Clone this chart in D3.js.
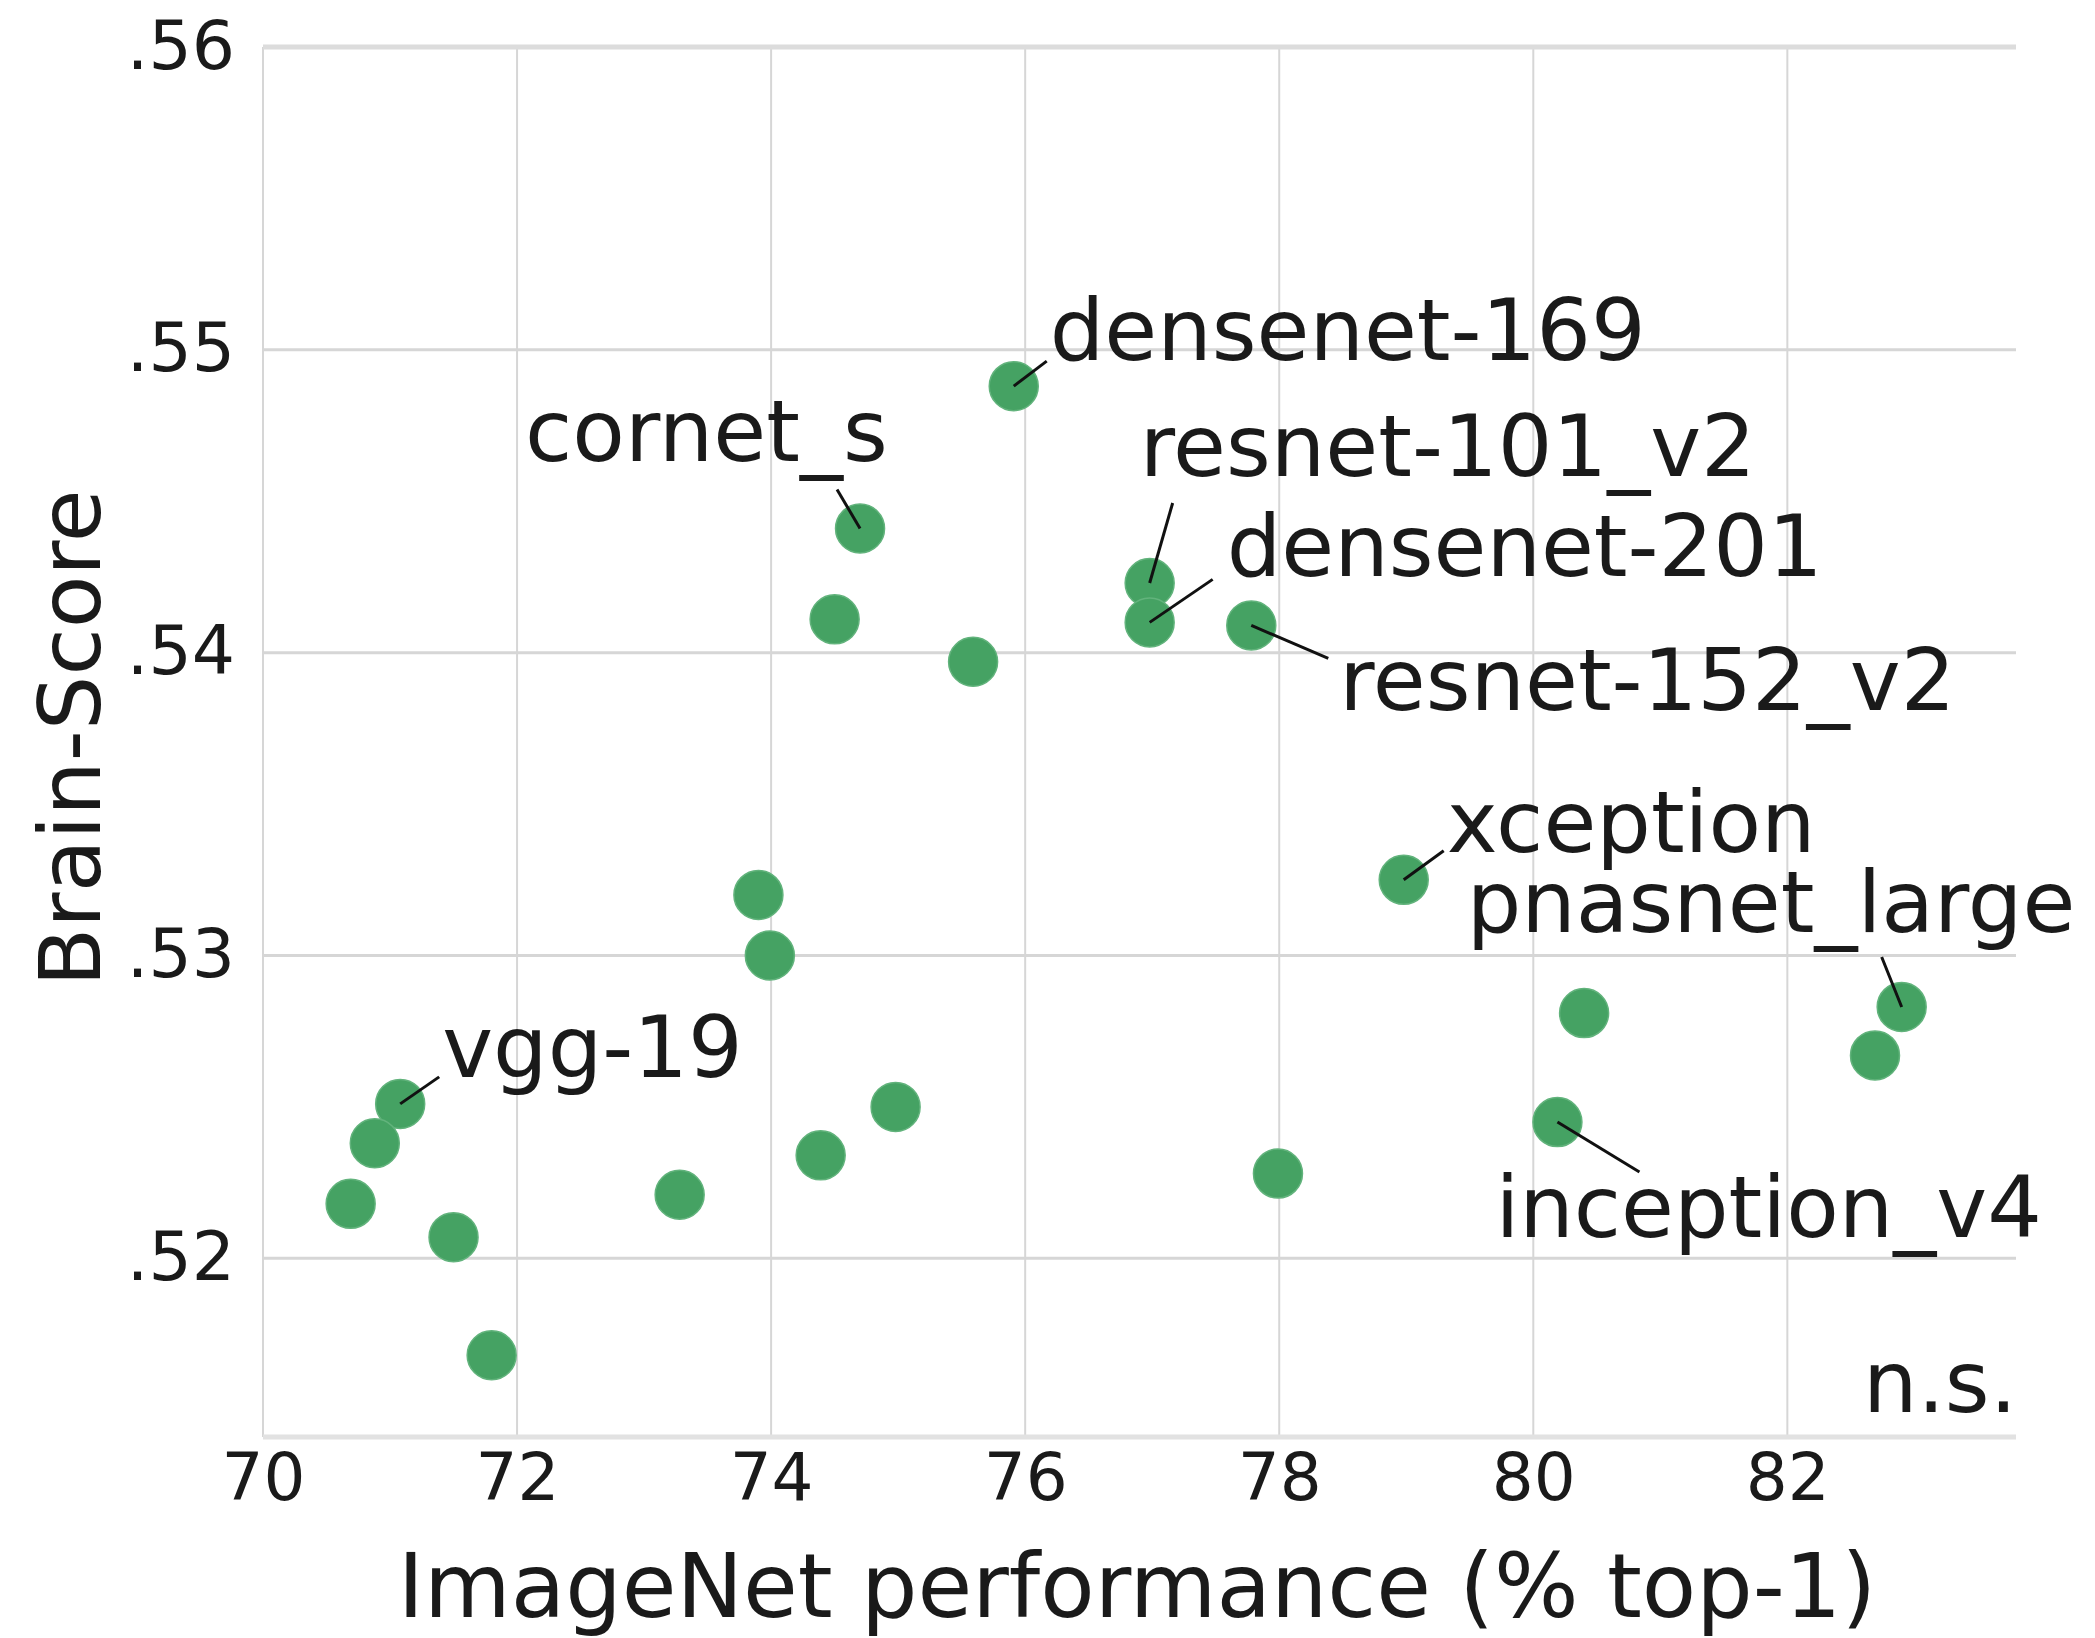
<!DOCTYPE html>
<html>
<head>
<meta charset="utf-8">
<script src="https://cdn.jsdelivr.net/npm/d3@7"></script>
<style>
  html, body { margin: 0; padding: 0; background: #fff; }
  svg { display: block; }
  text { font-family: "DejaVu Sans", Verdana, sans-serif; fill: #1a1a1a; }
</style>
</head>
<body>
<svg id="chart" width="2095" height="1638"></svg>
<script>
// ---- data ----
const models = ["densenet-169","cornet_s","","","resnet-101_v2","densenet-201","resnet-152_v2","xception","","pnasnet_large","","inception_v4","","","","","","","vgg-19","","","",""];
const imagenetTop1 = [75.91, 74.70, 74.50, 75.59, 76.98, 76.98, 77.78, 78.98, 80.40, 82.90, 82.69, 80.19, 77.99, 73.90, 73.99, 74.98, 74.39, 73.28, 71.08, 70.88, 70.69, 71.50, 71.80];
const brainScore  = [0.5488, 0.5441, 0.5411, 0.5397, 0.5423, 0.5410, 0.5409, 0.5325, 0.5281, 0.5283, 0.5267, 0.5245, 0.5228, 0.5320, 0.5300, 0.5250, 0.5234, 0.5221, 0.5251, 0.5238, 0.5218, 0.5207, 0.5168];
const xTicks = [70, 72, 74, 76, 78, 80, 82];
const yTicks = [0.52, 0.53, 0.54, 0.55, 0.56];
const xTitle = "ImageNet performance (% top-1)";
const yTitle = "Brain-Score";
const note = "n.s.";

// ---- label layout (pixel offsets from the dot: text start, leader end) ----
const labelLayout = {
  "densenet-169":  { tx: 36,   ty: -26, lx: 33,  ly: -25 },
  "cornet_s":      { tx: -335, ty: -68, lx: -23, ly: -39 },
  "resnet-101_v2": { tx: -10,  ty: -107, lx: 23,  ly: -80 },
  "densenet-201":  { tx: 77,   ty: -46, lx: 63,  ly: -43 },
  "resnet-152_v2": { tx: 88,   ty: 85,  lx: 77,  ly: 33 },
  "xception":      { tx: 43,   ty: -28, lx: 40,  ly: -29 },
  "pnasnet_large": { tx: -435, ty: -75, lx: -20, ly: -50 },
  "inception_v4":  { tx: -62,  ty: 115, lx: 82,  ly: 50 },
  "vgg-19":        { tx: 42,   ty: -27, lx: 39,  ly: -27 }
};

const svg = d3.select("#chart");
const L = 263, R = 2016, T = 47, B = 1437;

const x = d3.scaleLinear().domain([70, 83.8]).range([L, R]);
const y = d3.scaleLinear().domain([0.5141, 0.56]).range([B, T]);

// gridlines
const grid = svg.append("g");
grid.selectAll("line.v").data(xTicks).join("line")
  .attr("x1", d => x(d)).attr("x2", d => x(d))
  .attr("y1", T).attr("y2", B)
  .attr("stroke", "#d6d6d6").attr("stroke-width", 2);
grid.selectAll("line.h").data(yTicks.filter(d => d < 0.56)).join("line")
  .attr("x1", L).attr("x2", R)
  .attr("y1", d => y(d)).attr("y2", d => y(d))
  .attr("stroke", "#d6d6d6").attr("stroke-width", 3);
// top and bottom borders
grid.append("line").attr("x1", L).attr("x2", R).attr("y1", y(0.56)).attr("y2", y(0.56))
  .attr("stroke", "#dcdcdc").attr("stroke-width", 5);
grid.append("line").attr("x1", L).attr("x2", R).attr("y1", B).attr("y2", B)
  .attr("stroke", "#e2e2e2").attr("stroke-width", 5);

// axes (text only, via d3 axes)
const fmtY = v => d3.format(".2f")(v).replace(/^0/, "");
const xAxis = svg.append("g").attr("transform", `translate(0,${B})`)
  .call(d3.axisBottom(x).tickValues(xTicks).tickSize(0).tickPadding(0).tickFormat(d3.format("d")));
xAxis.select(".domain").remove();
xAxis.selectAll("text").attr("font-size", 66).attr("dy", null).attr("y", 63)
  .style("font-family", "DejaVu Sans").attr("fill", "#1a1a1a");

const yAxis = svg.append("g").attr("transform", `translate(${L},0)`)
  .call(d3.axisLeft(y).tickValues(yTicks).tickSize(0).tickPadding(28).tickFormat(fmtY));
yAxis.select(".domain").remove();
yAxis.selectAll("text").attr("font-size", 68).attr("dy", "0.31em")
  .style("font-family", "DejaVu Sans").attr("fill", "#1a1a1a");

// axis titles
svg.append("text").attr("x", (397 + 1877) / 2).attr("y", 1617)
  .attr("text-anchor", "middle").attr("font-size", 89).text(xTitle);
svg.append("text").attr("transform", "translate(100,738) rotate(-90)")
  .attr("text-anchor", "middle").attr("font-size", 86).text(yTitle);

// note
svg.append("text").attr("x", 2017).attr("y", 1412).attr("text-anchor", "end")
  .attr("font-size", 86).text(note);

// points
const pts = models.map((m, i) => ({ name: m, px: x(imagenetTop1[i]), py: y(brainScore[i]) }));
svg.append("g").selectAll("circle").data(pts).join("circle")
  .attr("cx", d => d.px).attr("cy", d => d.py).attr("r", 24.5)
  .attr("fill", "#45a263").attr("stroke", "#62b37c").attr("stroke-width", 1.5);

// annotations
const ann = svg.append("g");
pts.filter(d => d.name && labelLayout[d.name]).forEach(d => {
  const o = labelLayout[d.name];
  ann.append("line").attr("x1", d.px).attr("y1", d.py)
    .attr("x2", d.px + o.lx).attr("y2", d.py + o.ly)
    .attr("stroke", "#111").attr("stroke-width", 3);
  ann.append("text").attr("x", d.px + o.tx).attr("y", d.py + o.ty)
    .attr("font-size", 86).text(d.name);
});
</script>
</body>
</html>
